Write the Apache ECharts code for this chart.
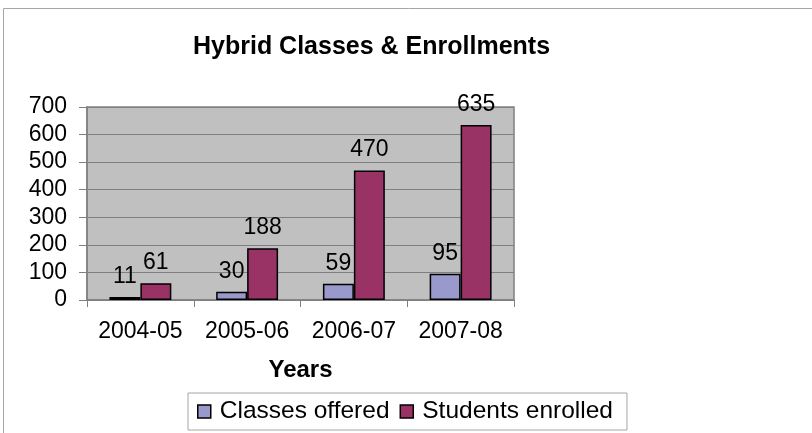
<!DOCTYPE html>
<html>
<head>
<meta charset="utf-8">
<script src="https://cdn.jsdelivr.net/npm/echarts@6/dist/echarts.min.js"></script>
<style>
  html, body { margin: 0; padding: 0; background: #fff; }
  #main { width: 812px; height: 433px; }
</style>
</head>
<body>
<div id="main"></div>
<script>
// chart data
var years = ['2004-05', '2005-06', '2006-07', '2007-08'];
var classesOffered = [11, 30, 59, 95];
var studentsEnrolled = [61, 188, 470, 635];
var seriesNames = ['Classes offered', 'Students enrolled'];

var font = 'Liberation Sans, Arial, sans-serif';

var chart = echarts.init(document.getElementById('main'), null, { renderer: 'canvas' });

var barLabel = {
  show: true,
  position: 'top',
  distance: 9,
  color: '#000',
  fontSize: 23,
  fontFamily: font
};

var option = {
  backgroundColor: '#ffffff',
  animation: false,
  graphic: [{
    type: 'rect',
    shape: { x: 3.5, y: 8.5, width: 900, height: 500 },
    style: { fill: 'none', stroke: '#a6a6a6', lineWidth: 1 },
    silent: true
  }],
  title: {
    text: 'Hybrid Classes & Enrollments',
    left: 193,
    top: 35,
    padding: 0,
    textStyle: {
      fontSize: 25,
      fontWeight: 'bold',
      color: '#000',
      fontFamily: font
    }
  },
  legend: {
    data: seriesNames,
    left: 188,
    top: 393,
    padding: [6, 14, 6, 9],
    itemGap: 10,
    itemWidth: 13,
    itemHeight: 13,
    icon: 'rect',
    borderColor: '#a6a6a6',
    borderWidth: 1,
    backgroundColor: '#fff',
    itemStyle: { borderColor: '#000', borderWidth: 1.5 },
    textStyle: { fontSize: 24.5, color: '#000', fontFamily: font, padding: [0, 0, 0, 4] }
  },
  grid: {
    left: 87,
    right: 298,
    top: 107,
    bottom: 133,
    show: true,
    backgroundColor: '#c0c0c0',
    borderColor: '#808080',
    borderWidth: 1.5
  },
  xAxis: {
    type: 'category',
    data: years,
    name: 'Years',
    nameLocation: 'middle',
    nameGap: 58,
    nameTextStyle: { fontSize: 24, fontWeight: 'bold', color: '#000', fontFamily: font },
    axisLine: { lineStyle: { color: '#808080', width: 1.5 } },
    axisTick: { show: true, length: 7, interval: 0, lineStyle: { color: '#808080' } },
    axisLabel: { fontSize: 23, color: '#000', margin: 20, interval: 0, hideOverlap: false, fontFamily: font }
  },
  yAxis: {
    type: 'value',
    min: 0,
    max: 700,
    interval: 100,
    axisLine: { show: true, lineStyle: { color: '#808080', width: 1.5 } },
    axisTick: { show: true, length: 8, lineStyle: { color: '#808080' } },
    axisLabel: { fontSize: 23, color: '#000', margin: 20, fontFamily: font },
    splitLine: { show: true, lineStyle: { color: '#808080', width: 1 } }
  },
  series: [{
    name: seriesNames[0],
    type: 'bar',
    data: classesOffered,
    barGap: '0%',
    barCategoryGap: '42%',
    itemStyle: { color: '#9999cc', borderColor: '#000', borderWidth: 1.5 },
    label: barLabel
  }, {
    name: seriesNames[1],
    type: 'bar',
    data: studentsEnrolled,
    barGap: '0%',
    barCategoryGap: '42%',
    itemStyle: { color: '#993366', borderColor: '#000', borderWidth: 1.5 },
    label: barLabel
  }]
};

chart.setOption(option);
</script>
</body>
</html>
